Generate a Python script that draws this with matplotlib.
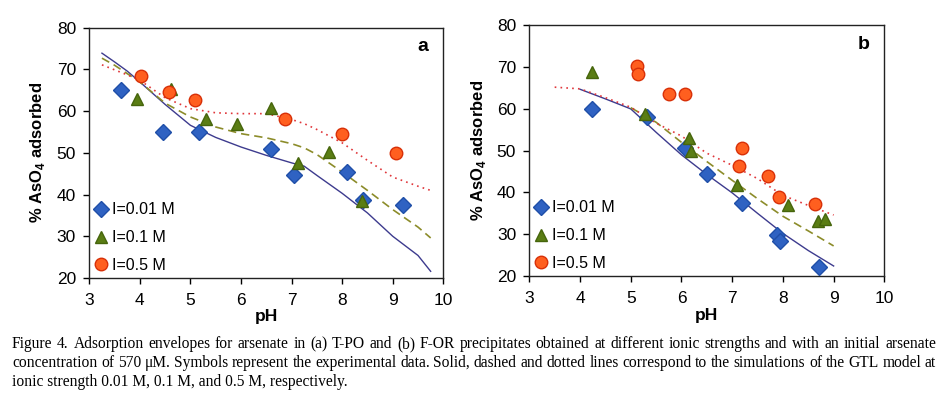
import matplotlib
matplotlib.use("Agg")
import matplotlib.pyplot as plt
import numpy as np

plt.rcParams['font.family'] = ['Liberation Sans', 'DejaVu Sans']
plt.rcParams['mathtext.fontset'] = 'custom'
plt.rcParams['mathtext.rm'] = 'Liberation Sans'
plt.rcParams['mathtext.bf'] = 'Liberation Sans:bold'

# ---- dati pannello a (T-PO) ----
ph_d_a = [3.62, 4.46, 5.16, 6.59, 7.05, 8.10, 8.42, 9.21]
ads_d_a = [65.0, 55.0, 55.0, 50.9, 44.7, 45.4, 38.6, 37.4]
ph_t_a = [3.95, 4.61, 5.30, 5.93, 6.59, 7.12, 7.73, 8.39]
ads_t_a = [63.0, 65.2, 58.0, 56.9, 60.8, 47.6, 50.2, 38.4]
ph_c_a = [4.03, 4.58, 5.09, 6.86, 7.99, 9.06]
ads_c_a = [68.4, 64.5, 62.6, 58.1, 54.5, 50.0]

ph_sim_a = [3.25, 3.5, 3.75, 4.0, 4.5, 5.0, 5.5, 6.0, 6.5, 7.0, 7.25, 7.5, 8.0, 8.5, 9.0, 9.5, 9.75]
solid_a = [73.9, 71.8, 69.6, 67.0, 61.6, 56.6, 53.7, 51.4, 49.4, 47.6, 46.8, 44.6, 40.3, 35.6, 30.0, 25.4, 21.6]
dashed_a = [72.7, 71.0, 69.0, 67.0, 61.9, 58.6, 56.2, 54.6, 53.6, 52.2, 51.2, 49.6, 45.4, 41.0, 36.4, 32.2, 29.6]
dotted_a = [71.1, 69.9, 68.7, 67.4, 63.2, 60.6, 59.6, 59.4, 59.4, 58.0, 57.0, 55.6, 52.4, 48.2, 44.2, 42.0, 41.0]

# ---- dati pannello b (F-OR) ----
ph_d_b = [4.23, 5.33, 6.06, 6.51, 7.19, 7.89, 7.94, 8.72]
ads_d_b = [60.0, 58.0, 50.7, 44.4, 37.4, 29.8, 28.4, 22.2]
ph_t_b = [4.24, 5.28, 6.14, 6.18, 7.09, 8.11, 8.70, 8.83]
ads_t_b = [68.8, 58.8, 53.1, 50.0, 41.9, 37.0, 33.2, 33.6]
ph_c_b = [5.12, 5.14, 5.75, 6.06, 7.19, 7.14, 7.71, 7.93, 8.63]
ads_c_b = [70.3, 68.4, 63.5, 63.5, 50.7, 46.3, 44.0, 39.0, 37.2]

ph_solid_b = [4.0, 4.5, 5.0, 5.5, 6.0, 6.5, 7.0, 7.5, 8.0, 8.5, 9.0]
solid_b = [64.7, 62.4, 60.0, 54.4, 49.0, 44.3, 39.9, 35.0, 30.2, 26.1, 22.4]
ph_dashed_b = [5.0, 5.5, 6.0, 6.5, 7.0, 7.5, 8.0, 8.5, 9.0]
dashed_b = [60.3, 56.8, 52.0, 47.4, 42.9, 38.5, 34.3, 30.8, 27.2]
ph_dotted_b = [3.5, 4.0, 4.5, 5.0, 5.5, 6.0, 6.5, 7.0, 7.5, 8.0, 8.5, 9.0]
dotted_b = [65.2, 64.8, 62.7, 60.4, 56.6, 53.5, 49.4, 46.5, 43.3, 39.3, 36.9, 34.6]

labels = ['I=0.01 M', 'I=0.1 M', 'I=0.5 M']

caption = [
    "Figure 4. Adsorption envelopes for arsenate in (a) T-PO and (b) F-OR precipitates obtained at different ionic strengths and with an initial arsenate",
    "concentration of 570 \u03bcM. Symbols represent the experimental data. Solid, dashed and dotted lines correspond to the simulations of the GTL model at",
    "ionic strength 0.01 M, 0.1 M, and 0.5 M, respectively.",
]

W, H = 941, 396
fig = plt.figure(figsize=(W / 100, H / 100), dpi=100)

ax_a = fig.add_axes([0.0949, 0.298, 0.3762, 0.632])
ax_b = fig.add_axes([0.5625, 0.303, 0.3773, 0.633])


def draw_panel(ax, letter, points, curves):
    for (x, y), (c, lw, ls) in curves:
        ax.plot(x, y, color=c, lw=lw, ls=ls, zorder=2)
    styles = [
        dict(marker='D', color='#2f62c2', mec='#1f4fa8', ms=8),
        dict(marker='^', color='#5a7d14', mec='#46650c', ms=9),
        dict(marker='o', color='#ff5f1f', mec='#d83008', ms=9),
    ]
    for (x, y), st, lab in zip(points, styles, labels):
        ax.plot(x, y, ls='none', label=lab, mew=1, zorder=3, **st)
    ax.set_xlim(3, 10)
    ax.set_ylim(20, 80)
    ax.set_xticks(range(3, 11))
    ax.set_yticks(range(20, 81, 10))
    ax.tick_params(axis='x', direction='out', length=4, width=1, pad=7, labelsize=12.5)
    ax.tick_params(axis='y', direction='out', length=4.5, width=1, pad=5, labelsize=12.5)
    for s in ax.spines.values():
        s.set_linewidth(1)
        s.set_color('#222222')
    ax.set_xlabel('pH', fontsize=12.5, fontweight='bold')
    ax.set_ylabel(r'% AsO$_\mathbf{4}$ adsorbed', fontsize=12, fontweight='bold')
    ax.text(0.943, 0.923, letter, transform=ax.transAxes, fontsize=14,
            fontweight='bold', ha='center', va='center')
    ax.legend(loc='lower left', frameon=False, fontsize=11.5, handlelength=0.8,
              handletextpad=0.3, labelspacing=0.8, borderaxespad=0.2,
              borderpad=0.12)


draw_panel(ax_a, 'a',
           [(ph_d_a, ads_d_a), (ph_t_a, ads_t_a), (ph_c_a, ads_c_a)],
           [((ph_sim_a, solid_a), ('#3d3b8e', 1.0, '-')),
            ((ph_sim_a, dashed_a), ('#8c8c2a', 1.2, (0, (5, 3)))),
            ((ph_sim_a, dotted_a), ('#e0363a', 1.2, (0, (1, 2.5))))])
ax_a.yaxis.set_label_coords(-0.12, 0.5)
ax_a.xaxis.set_label_coords(0.5, -0.124)

draw_panel(ax_b, 'b',
           [(ph_d_b, ads_d_b), (ph_t_b, ads_t_b), (ph_c_b, ads_c_b)],
           [((ph_solid_b, solid_b), ('#3d3b8e', 1.0, '-')),
            ((ph_dashed_b, dashed_b), ('#8c8c2a', 1.2, (0, (5, 3)))),
            ((ph_dotted_b, dotted_b), ('#e0363a', 1.2, (0, (1, 2.5))))])
ax_b.yaxis.set_label_coords(-0.116, 0.5)
ax_b.xaxis.set_label_coords(0.5, -0.127)

# didascalia giustificata (parole posizionate sulla linea di base)
renderer = fig.canvas.get_renderer()
cap_kw = dict(family='Liberation Serif', fontsize=11.2, va='baseline')
x0, x1 = 12, 936
line_base = [348, 367, 386]
for i, (line, yy) in enumerate(zip(caption, line_base)):
    yf = 1 - yy / H
    if i == len(caption) - 1:
        fig.text(x0 / W, yf, line, ha='left', **cap_kw)
        continue
    words = line.split()
    widths = []
    for w in words:
        t = fig.text(0, 0, w, **cap_kw)
        widths.append(t.get_window_extent(renderer).width)
        t.remove()
    gap = (x1 - x0 - sum(widths)) / (len(words) - 1)
    x = x0
    for w, wd in zip(words, widths):
        fig.text(x / W, yf, w, ha='left', **cap_kw)
        x += wd + gap

fig.savefig('out.png', dpi=100)
